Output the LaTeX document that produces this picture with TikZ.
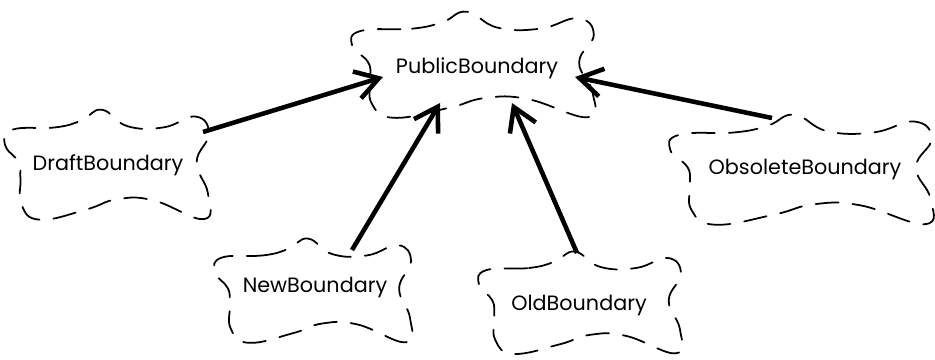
\documentclass[tikz,border=0pt]{standalone}
\usepackage{fontspec}
\setmainfont{Poppins}
\usetikzlibrary{arrows.meta}

\tikzset{
  x=0.02cm, y=0.02cm,
  label text/.style={font=\fontsize{11.8}{14}\selectfont, inner sep=0pt},
  cloud edge/.style={line width=1pt, dash pattern=on 13pt off 8pt, line cap=round},
  uses/.style={line width=2.6pt, -{Straight Barb[length=13pt,width=16pt]}}
}

% dashed class cloud: centre x, centre y, half width, half height
\newcommand\boundarycloud[4]{%
  \draw[cloud edge, shift={(#1,#2)}, xscale=#3, yscale=#4]
    plot[smooth cycle, tension=0.75] coordinates {
      (-0.92,0.62) (-0.5,0.66) (-0.25,0.78) (-0.05,0.97) (0.2,0.68)
      (0.55,0.66) (0.86,0.85) (0.99,0.55) (0.87,0.05) (0.98,-0.5)
      (0.94,-0.95) (0.45,-0.62) (0.1,-0.6) (-0.2,-0.78) (-0.65,-0.96)
      (-0.83,-0.7) (-0.84,-0.25) (-0.86,0.05) (-0.99,0.35)};}

\begin{document}
\begin{tikzpicture}
  \useasboundingbox (0,0) rectangle (935,359);

  % class names
  \node[label text] (public)   at (477,291) {PublicBoundary};
  \node[label text] (draft)    at (108,194) {DraftBoundary};
  \node[label text] (obsolete) at (805,189) {ObsoleteBoundary};
  \node[label text] (new)      at (315,72)  {NewBoundary};
  \node[label text] (old)      at (579,54)  {OldBoundary};

  % clouds around the names
  \boundarycloud{473}{294}{122}{55}
  \boundarycloud{107}{194}{103}{57}
  \boundarycloud{801}{189}{132}{57}
  \boundarycloud{313}{68}{99}{54}
  \boundarycloud{580}{56}{102}{53}

  % attachment points on the cloud outlines
  \coordinate (public-w)  at (383,282);
  \coordinate (public-sw) at (440,256);
  \coordinate (public-se) at (512,256);
  \coordinate (public-e)  at (575,282);
  \coordinate (draft-ne)    at (203,227);
  \coordinate (new-n)       at (352,109);
  \coordinate (old-n)       at (577,106);
  \coordinate (obsolete-nw) at (772,241);

  % inheritance arrows
  \draw[uses] (draft-ne)    -- (public-w);
  \draw[uses] (new-n)       -- (public-sw);
  \draw[uses] (old-n)       -- (public-se);
  \draw[uses] (obsolete-nw) -- (public-e);
\end{tikzpicture}
\end{document}
